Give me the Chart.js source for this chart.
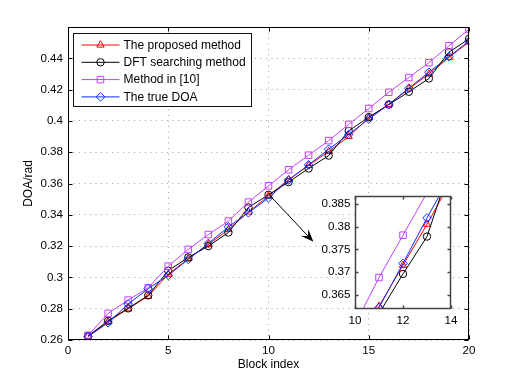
<!DOCTYPE html>
<html>
<head>
<meta charset="utf-8">
<script src="https://cdn.jsdelivr.net/npm/chart.js@4.4.0/dist/chart.umd.min.js"></script>
<style>
  html, body { margin: 0; padding: 0; background: #fff; }
  #wrap { position: relative; width: 518px; height: 382px; }
  #wrap canvas { position: absolute; left: 0; top: 0; }
</style>
</head>
<body>
<div id="wrap">
  <canvas id="mainChart" width="518" height="382"></canvas>
  <canvas id="insetChart" width="518" height="382"></canvas>
</div>
<script>
// data
const blocks = [1, 2, 3, 4, 5, 6, 7, 8, 9, 10, 11, 12, 13, 14, 15, 16, 17, 18, 19, 20];
const proposed  = [0.2625, 0.2717, 0.2800, 0.2880, 0.3020, 0.3120, 0.3210, 0.3306, 0.3418, 0.3520,
                   0.3625, 0.3715, 0.3805, 0.3900, 0.4020, 0.4105, 0.4205, 0.4300, 0.4405, 0.4505];
const dftSearch = [0.2625, 0.2723, 0.2802, 0.2885, 0.3043, 0.3128, 0.3200, 0.3287, 0.3447, 0.3528,
                   0.3609, 0.3696, 0.3778, 0.3936, 0.4024, 0.4104, 0.4186, 0.4271, 0.4439, 0.4524];
const method10  = [0.2630, 0.2770, 0.2855, 0.2934, 0.3072, 0.3179, 0.3274, 0.3360, 0.3481, 0.3585,
                   0.3688, 0.3781, 0.3874, 0.3978, 0.4079, 0.4183, 0.4277, 0.4372, 0.4480, 0.4585];
const trueDoa   = [0.2622, 0.2710, 0.2830, 0.2928, 0.3013, 0.3115, 0.3217, 0.3323, 0.3413, 0.3508,
                   0.3622, 0.3719, 0.3819, 0.3913, 0.4012, 0.4106, 0.4209, 0.4311, 0.4411, 0.4510];

const xTicks = [0, 5, 10, 15, 20];
const yTicks = [0.26, 0.28, 0.30, 0.32, 0.34, 0.36, 0.38, 0.40, 0.42, 0.44];
const insetXTicks = [10, 12, 14];
const insetYTicks = [0.365, 0.370, 0.375, 0.380, 0.385];

// arrow from the main curve to the zoomed box (data units of the main axes)
const arrowFrom = { x: 10.08, y: 0.3522 };
const arrowTo   = { x: 12.24, y: 0.3227 };

Chart.defaults.font.family = '"Liberation Sans", Arial, sans-serif';
Chart.defaults.color = '#000';

const tickFont = { size: 11.6 };
const fmt = v => String(+Number(v).toFixed(3));

function series() {
  const pts = arr => blocks.map((b, i) => ({ x: b, y: arr[i] }));
  return [
    { label: 'The proposed method', data: pts(proposed), borderColor: '#ff0000', pointStyle: 'triangle', pointRadius: 4.2, order: 3 },
    { label: 'DFT searching method', data: pts(dftSearch), borderColor: '#000000', pointStyle: 'circle', pointRadius: 3.7, order: 2 },
    { label: 'Method in [10]', data: pts(method10), borderColor: '#bf40ff', pointStyle: 'rect', pointRadius: 4.6, order: 1 },
    { label: 'The true DOA', data: pts(trueDoa), borderColor: '#0a2cff', pointStyle: 'rectRot', pointRadius: 4.3, order: 0 }
  ].map(d => Object.assign(d, {
    borderWidth: 1,
    pointBorderWidth: 1,
    pointBorderColor: d.borderColor,
    backgroundColor: 'rgba(0,0,0,0)',
    pointBackgroundColor: 'rgba(0,0,0,0)',
    tension: 0
  }));
}

function drawMarker(ctx, style, x, y, r) {
  ctx.beginPath();
  if (style === 'circle') {
    ctx.arc(x, y, r, 0, Math.PI * 2);
  } else if (style === 'triangle') {
    for (let k = 0; k < 3; k++) {
      const a = k * 2 * Math.PI / 3;
      const px = x + Math.sin(a) * r, py = y - Math.cos(a) * r;
      k ? ctx.lineTo(px, py) : ctx.moveTo(px, py);
    }
    ctx.closePath();
  } else if (style === 'rect') {
    const s = r * Math.SQRT1_2;
    ctx.rect(x - s, y - s, 2 * s, 2 * s);
  } else {
    ctx.moveTo(x, y - r); ctx.lineTo(x + r, y); ctx.lineTo(x, y + r); ctx.lineTo(x - r, y);
    ctx.closePath();
  }
  ctx.stroke();
}

// box round the axes with inward tick marks, like the original
const axesBox = {
  id: 'axesBox',
  beforeDraw(chart, args, opts) {
    if (!opts.fill) return;
    const a = chart.chartArea, ctx = chart.ctx;
    ctx.save();
    ctx.fillStyle = '#fff';
    ctx.fillRect(a.left, a.top, a.right - a.left, a.bottom - a.top);
    ctx.restore();
  },
  afterDraw(chart, args, opts) {
    const { ctx, chartArea: a, scales } = chart;
    const L = Math.round(a.left) + 0.5, R = Math.round(a.right) - 0.5;
    const T = Math.round(a.top) + 0.5, B = Math.round(a.bottom) - 0.5;
    const len = opts.tickLen;
    ctx.save();
    ctx.strokeStyle = opts.color;
    ctx.lineWidth = opts.width;
    ctx.beginPath();
    scales.x.ticks.forEach(t => {
      const p = Math.round(scales.x.getPixelForValue(t.value)) + 0.5;
      ctx.moveTo(p, B); ctx.lineTo(p, B - len);
      ctx.moveTo(p, T); ctx.lineTo(p, T + len);
    });
    scales.y.ticks.forEach(t => {
      const p = Math.round(scales.y.getPixelForValue(t.value)) + 0.5;
      ctx.moveTo(L, p); ctx.lineTo(L + len, p);
      ctx.moveTo(R, p); ctx.lineTo(R - len, p);
    });
    ctx.stroke();
    ctx.strokeRect(L, T, R - L, B - T);
    ctx.restore();
  }
};

// legend box and arrow for the main axes
const legendAndArrow = {
  id: 'legendAndArrow',
  afterDraw(chart) {
    const { ctx, chartArea: a, scales } = chart;
    // arrow
    const x0 = scales.x.getPixelForValue(arrowFrom.x), y0 = scales.y.getPixelForValue(arrowFrom.y);
    const x1 = scales.x.getPixelForValue(arrowTo.x), y1 = scales.y.getPixelForValue(arrowTo.y);
    const ang = Math.atan2(y1 - y0, x1 - x0);
    const headLen = 13, headW = 5;
    ctx.save();
    ctx.strokeStyle = '#000';
    ctx.fillStyle = '#000';
    ctx.lineWidth = 1;
    ctx.beginPath();
    ctx.moveTo(x0, y0);
    ctx.lineTo(x1 - Math.cos(ang) * headLen * 0.6, y1 - Math.sin(ang) * headLen * 0.6);
    ctx.stroke();
    ctx.translate(x1, y1);
    ctx.rotate(ang);
    ctx.beginPath();
    ctx.moveTo(0, 0);
    ctx.lineTo(-headLen, -headW);
    ctx.lineTo(-headLen * 0.6, 0);
    ctx.lineTo(-headLen, headW);
    ctx.closePath();
    ctx.fill();
    ctx.restore();

    // legend
    const bx = Math.round(a.left) + 5.5, by = Math.round(a.top) + 6.5;
    const bw = 178, bh = 73;
    ctx.save();
    ctx.fillStyle = '#fff';
    ctx.fillRect(bx, by, bw, bh);
    ctx.strokeStyle = '#111';
    ctx.lineWidth = 1;
    ctx.strokeRect(bx, by, bw, bh);
    ctx.font = '12px "Liberation Sans", Arial, sans-serif';
    ctx.textBaseline = 'middle';
    chart.data.datasets.forEach((d, i) => {
      const y = by + 11.5 + i * 17.3;
      ctx.strokeStyle = d.borderColor;
      ctx.lineWidth = 1;
      ctx.beginPath();
      ctx.moveTo(bx + 8, y);
      ctx.lineTo(bx + 46, y);
      ctx.stroke();
      drawMarker(ctx, d.pointStyle, bx + 27, y, d.pointRadius);
      ctx.fillStyle = '#000';
      ctx.fillText(d.label, bx + 50, y + 0.5);
    });
    ctx.restore();
  }
};

new Chart(document.getElementById('mainChart'), {
  type: 'line',
  data: { datasets: series() },
  options: {
    responsive: false,
    animation: false,
    events: [],
    layout: { padding: { left: 0, top: 27, right: 49, bottom: 0 } },
    plugins: {
      legend: { display: false },
      tooltip: { enabled: false },
      axesBox: { color: '#000', width: 1, tickLen: 4, fill: false }
    },
    scales: {
      x: {
        type: 'linear',
        min: 0, max: 20,
        afterBuildTicks: s => { s.ticks = xTicks.map(v => ({ value: v })); },
        afterFit: s => { s.height = 42; },
        ticks: { font: tickFont, padding: 4, maxRotation: 0, callback: fmt },
        grid: { color: '#a0a0a0', drawTicks: false },
        border: { display: false, dash: [1, 4.5] },
        title: { display: true, text: 'Block index', font: { size: 12 }, padding: { top: 0, bottom: 10 } }
      },
      y: {
        type: 'linear',
        min: 0.26, max: 0.46,
        afterBuildTicks: s => { s.ticks = yTicks.map(v => ({ value: v })); },
        afterFit: s => { s.width = 68; },
        ticks: { font: tickFont, padding: 5, callback: fmt },
        grid: { color: '#a0a0a0', drawTicks: false },
        border: { display: false, dash: [1, 4.5] },
        title: { display: true, text: 'DOA/rad', font: { size: 12 }, padding: { top: 21, bottom: 0 } }
      }
    }
  },
  plugins: [axesBox, legendAndArrow]
});

// zoomed inset
new Chart(document.getElementById('insetChart'), {
  type: 'line',
  data: { datasets: series() },
  options: {
    responsive: false,
    animation: false,
    events: [],
    layout: { padding: { left: 300, top: 196, right: 67, bottom: 0 } },
    plugins: {
      legend: { display: false },
      tooltip: { enabled: false },
      axesBox: { color: '#444', width: 1.5, tickLen: 3, fill: true }
    },
    scales: {
      x: {
        type: 'linear',
        min: 10, max: 14,
        afterBuildTicks: s => { s.ticks = insetXTicks.map(v => ({ value: v })); },
        afterFit: s => { s.height = 73; },
        ticks: { font: tickFont, padding: 5, maxRotation: 0, callback: fmt },
        grid: { display: false, drawTicks: false },
        border: { display: false }
      },
      y: {
        type: 'linear',
        min: 0.3619, max: 0.3867,
        afterBuildTicks: s => { s.ticks = insetYTicks.map(v => ({ value: v })); },
        afterFit: s => { s.width = 55; },
        ticks: { font: tickFont, padding: 4.5, callback: fmt },
        grid: { display: false, drawTicks: false },
        border: { display: false }
      }
    }
  },
  plugins: [axesBox]
});
</script>
</body>
</html>
